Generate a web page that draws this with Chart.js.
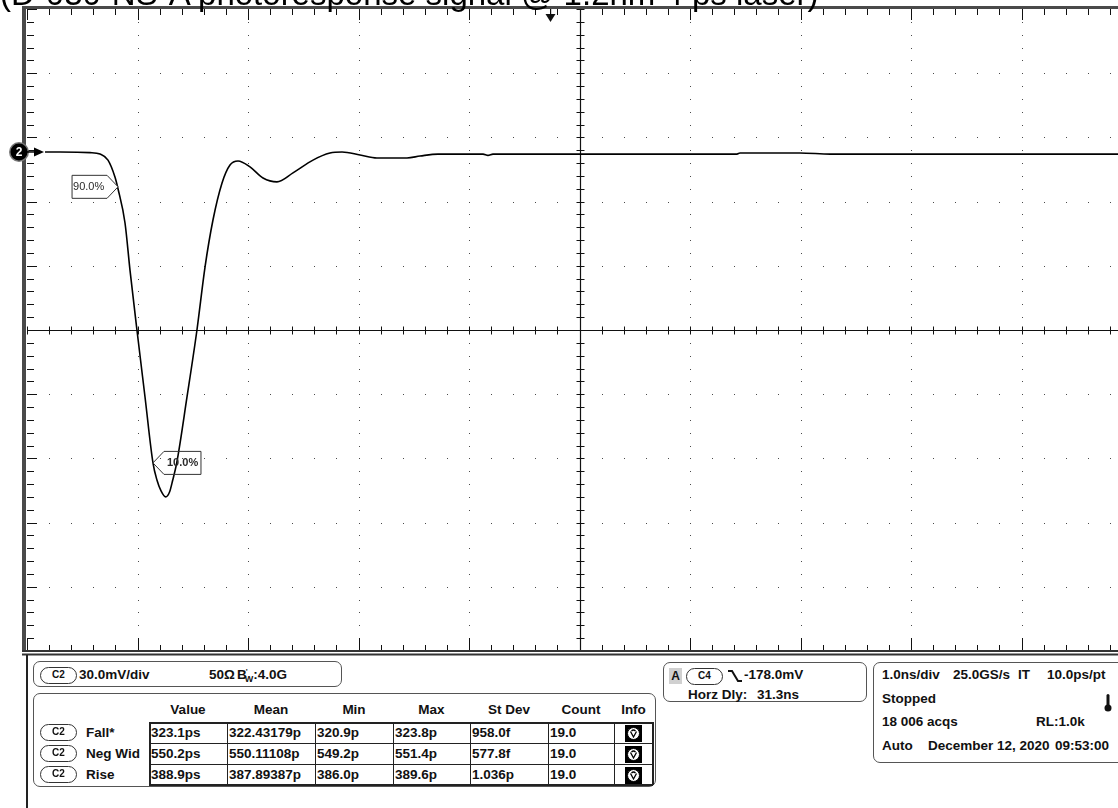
<!DOCTYPE html>
<html><head><meta charset="utf-8">
<script src="https://cdn.jsdelivr.net/npm/chart.js@4.4.0/dist/chart.umd.min.js"></script>
<style>
html,body{margin:0;padding:0;background:#fff;width:1118px;height:808px;overflow:hidden;position:relative;font-family:"Liberation Sans",Arial,sans-serif;}
#wrap{position:absolute;left:0;top:0;width:1140px;height:660px;}
#title{position:absolute;left:0;top:-23px;font-size:33px;line-height:33px;white-space:nowrap;color:#000;}
.t{position:absolute;font-weight:bold;font-size:13.5px;white-space:nowrap;color:#111;line-height:16px;}
.box{position:absolute;border:1.5px solid #555;border-radius:7px;box-sizing:border-box;}
.pill{position:absolute;border:1.3px solid #333;border-radius:9px;box-sizing:border-box;font-weight:bold;font-size:10px;text-align:center;line-height:14px;width:37px;height:17px;color:#111;}
.ln{position:absolute;background:#222;}
</style></head>
<body>
<div id="wrap"><canvas id="c" width="1140" height="660"></canvas></div>
<div id="title">(D-030-NS-A photoresponse signal @ 1.2nm 4 ps laser)</div>
<div id="panel"></div>
<script>
// ---- data ----
const timeNs = [0.163, 0.299, 0.570, 0.661, 0.733, 0.796, 0.824, 0.887, 0.932, 0.995, 1.068, 1.140, 1.176, 1.213, 1.255, 1.290, 1.319, 1.355, 1.448, 1.538, 1.611, 1.683, 1.765, 1.837, 1.910, 2.018, 2.136, 2.262, 2.407, 2.588, 2.742, 2.851, 3.014, 3.167, 3.439, 3.557, 3.719, 4.127, 4.172, 4.217, 5.882, 6.425, 6.452, 6.995, 7.270, 10.0];
const signalMv = [83.2, 83.2, 82.9, 82.2, 79.4, 71.5, 65.9, 50.0, 28.0, 0, -31.3, -62.1, -70.1, -75.2, -78.0, -75.7, -70.1, -62.1, -31.3, 0, 29.4, 51.4, 68.7, 77.1, 79.0, 76.2, 71.0, 69.2, 73.4, 79.4, 82.7, 83.2, 81.8, 80.4, 80.4, 81.3, 82.2, 82.2, 81.6, 82.2, 82.2, 82.2, 82.7, 82.7, 82.2, 82.2];
const levelLabels = ["90.0%", "10.0%"];
const levelTimeNs = [0.824, 1.140];
const levelMv = [66.9, -62.1];
const levelPointsRight = [true, false];
const xDivNs = 1.0, yDivMv = 30.0;
const xTickNs = [0,1,2,3,4,5,6,7,8,9,10];
const yTickMv = [-150,-120,-90,-60,-30,0,30,60,90,120,150];
const markerMv = 83.2;
const triggerNs = 4.73;

const measNames = ["Fall*","Neg Wid","Rise"];
const measValue = ["323.1ps","550.2ps","388.9ps"];
const measMean = ["322.43179p","550.11108p","387.89387p"];
const measMin = ["320.9p","549.2p","386.0p"];
const measMax = ["323.8p","551.4p","389.6p"];
const measStd = ["958.0f","577.8f","1.036p"];
const measCount = ["19.0","19.0","19.0"];
const measHeaders = ["Value","Mean","Min","Max","St Dev","Count","Info"];

// ---- chart ----
const scopePlugin = {
  id:'scope',
  beforeDatasetsDraw(chart){
    const {ctx, chartArea:a, scales:{x,y}} = chart;
    ctx.save();
    // grid dots
    ctx.fillStyle='#4a4a4a';
    xTickNs.forEach((t,i)=>{
      if(i===0||i===xTickNs.length-1||t===5) return;
      const px=Math.round(x.getPixelForValue(t));
      for(let v=yTickMv[0]; v<=yTickMv[yTickMv.length-1]+0.01; v+=yDivMv/5){
        ctx.fillRect(px, Math.round(y.getPixelForValue(v)), 1, 1);
      }
    });
    yTickMv.forEach((v,i)=>{
      if(i===0||i===yTickMv.length-1||v===0) return;
      const py=Math.round(y.getPixelForValue(v));
      for(let t=xTickNs[0]; t<=xTickNs[xTickNs.length-1]+0.01; t+=xDivNs/5){
        ctx.fillRect(Math.round(x.getPixelForValue(t)), py, 1, 1);
      }
    });
    // center cross
    ctx.strokeStyle='#111'; ctx.lineWidth=1.2;
    const cx=Math.round(x.getPixelForValue(5))+0.5, cy=Math.round(y.getPixelForValue(0))+0.5;
    ctx.beginPath(); ctx.moveTo(cx,a.top); ctx.lineTo(cx,a.bottom); ctx.moveTo(a.left,cy); ctx.lineTo(a.right,cy); ctx.stroke();
    ctx.lineWidth=1;
    ctx.beginPath();
    for(let t=0; t<=10.001; t+=xDivNs/5){ const px=Math.round(x.getPixelForValue(t))+0.5; ctx.moveTo(px,cy-4); ctx.lineTo(px,cy+4); }
    for(let v=-150; v<=150.01; v+=yDivMv/5){ const py=Math.round(y.getPixelForValue(v))+0.5; ctx.moveTo(cx-4,py); ctx.lineTo(cx+4,py); }
    // edge ticks
    for(let k=0; k<=50; k++){
      const t=k*xDivNs/5, px=Math.round(x.getPixelForValue(t))+0.5, major=(k%5===0);
      ctx.moveTo(px,a.top); ctx.lineTo(px,a.top+(major?11:6));
      ctx.moveTo(px,a.bottom); ctx.lineTo(px,a.bottom-(major?13:6));
    }
    for(let k=0; k<=50; k++){
      const v=-150+k*yDivMv/5, py=Math.round(y.getPixelForValue(v))+0.5, major=(k%5===0);
      ctx.moveTo(a.left,py); ctx.lineTo(a.left+(major?10:7),py);
    }
    ctx.stroke();
    // borders
    ctx.fillStyle='#4a4a4a';
    ctx.fillRect(a.left-5, a.top-3, 4, a.bottom-a.top+4);
    ctx.fillRect(a.left-5, a.top-3, a.right-a.left+10, 3);
    ctx.fillStyle='#333';
    ctx.fillRect(a.left-5, a.bottom-1, a.right-a.left+10, 2);
    ctx.fillRect(a.left-5, a.bottom+2.5, a.right-a.left+10, 2);
    // trigger position marker
    const tx=Math.round(x.getPixelForValue(triggerNs))+0.5;
    ctx.fillStyle='#111';
    ctx.beginPath(); ctx.moveTo(tx-5,a.top+5); ctx.lineTo(tx+5,a.top+5); ctx.lineTo(tx,a.top+13); ctx.closePath(); ctx.fill();
    ctx.fillRect(tx-0.5,a.top,1.2,6);
    ctx.restore();
  },
  afterDatasetsDraw(chart){
    const {ctx, chartArea:a, scales:{x,y}} = chart;
    ctx.save();
    // channel marker
    const my=y.getPixelForValue(markerMv);
    ctx.fillStyle='#777'; ctx.beginPath(); ctx.arc(19,my,10,0,Math.PI*2); ctx.fill();
    ctx.fillStyle='#000'; ctx.beginPath(); ctx.arc(19,my,8.5,0,Math.PI*2); ctx.fill();
    ctx.fillStyle='#fff'; ctx.font='bold 12px "Liberation Sans", Arial'; ctx.textAlign='center'; ctx.textBaseline='middle';
    ctx.fillText('2',19,my+0.5);
    ctx.fillStyle='#000';
    ctx.fillRect(27,my-0.75,8,1.5);
    ctx.beginPath(); ctx.moveTo(34,my-4.5); ctx.lineTo(44,my); ctx.lineTo(34,my+4.5); ctx.closePath(); ctx.fill();
    // level labels
    ctx.textBaseline='middle';
    levelLabels.forEach((lab,i)=>{
      const px=x.getPixelForValue(levelTimeNs[i]), py=y.getPixelForValue(levelMv[i]);
      ctx.beginPath();
      if(levelPointsRight[i]){
        ctx.moveTo(px,py); ctx.lineTo(px-11,py-11.5); ctx.lineTo(px-46,py-11.5); ctx.lineTo(px-46,py+11.5); ctx.lineTo(px-11,py+11.5); ctx.closePath();
      } else {
        ctx.moveTo(px,py); ctx.lineTo(px+11,py-11.5); ctx.lineTo(px+48,py-11.5); ctx.lineTo(px+48,py+11.5); ctx.lineTo(px+11,py+11.5); ctx.closePath();
      }
      ctx.fillStyle=levelPointsRight[i]?'#fff':'rgba(255,255,255,0)'; ctx.fill();
      ctx.strokeStyle='#333'; ctx.lineWidth=1; ctx.stroke();
      ctx.font=(levelPointsRight[i]?'':'bold ')+'11px "Liberation Sans", Arial';
      ctx.fillStyle='#2a2a2a'; ctx.textAlign='left';
      ctx.fillText(lab, levelPointsRight[i]? px-45 : px+14, py+0.5);
    });
    ctx.restore();
  }
};

new Chart(document.getElementById('c'), {
  type:'line',
  data:{ datasets:[{ data: timeNs.map((t,i)=>({x:t,y:signalMv[i]})), borderColor:'#000', borderWidth:1.6, pointRadius:0, cubicInterpolationMode:'monotone', fill:false }]},
  options:{
    responsive:false, animation:false, events:[],
    layout:{padding:{left:27, top:9, right:8, bottom:9}},
    plugins:{legend:{display:false}, tooltip:{enabled:false}, title:{display:false}},
    scales:{
      x:{type:'linear', min:xTickNs[0], max:xTickNs[xTickNs.length-1], display:false},
      y:{type:'linear', min:yTickMv[0], max:yTickMv[yTickMv.length-1], display:false}
    }
  },
  plugins:[scopePlugin]
});

// ---- lower info panel ----
const P=document.getElementById('panel');
function el(cls, x, y, w, h, html, style){
  const d=document.createElement('div'); d.className=cls;
  d.style.left=x+'px'; d.style.top=y+'px';
  if(w!=null) d.style.width=w+'px'; if(h!=null) d.style.height=h+'px';
  if(html!=null) d.innerHTML=html; if(style) d.style.cssText+=style;
  P.appendChild(d); return d;
}
function txt(s,x,cy,style){ return el('t',x,cy-8,null,null,s,style); }
function pill(s,x,cy){ return el('pill',x,cy-8.5,null,null,s); }
// left panel border
el('ln',26,655,1.6,153);
// box 1
el('box',33,660.5,309,26);
pill('C2',40,675); txt('30.0mV/div',79,675);
txt('50Ω',209,675);
txt('B<span style="font-size:8px;position:relative;top:-5px;margin-left:-1px">\'</span><span style="font-size:9px;position:relative;top:3px;margin-left:-3px">W</span>:4.0G',237,675);
// box 2 with table
el('box',33,692.5,623,94.5);
const colX=[149,227,315,393,470,548,614,653];
const rowY=[722,742.5,763.5,785];
measHeaders.forEach((h,i)=>{ const cx=(colX[i]+colX[i+1])/2; el('t',cx-40,702,80,null,h,'text-align:center'); });
el('ln',colX[0],rowY[0],colX[7]-colX[0],1.5); el('ln',colX[0],rowY[3]-1,colX[7]-colX[0],1.5);
el('ln',colX[0],rowY[1],colX[7]-colX[0],1.2); el('ln',colX[0],rowY[2],colX[7]-colX[0],1.2);
colX.forEach((cx,i)=>el('ln',cx-(i===7?1:0),rowY[0],i===0||i===7?1.5:1.3,rowY[3]-rowY[0]));
const cols=[measValue,measMean,measMin,measMax,measStd,measCount];
measNames.forEach((n,r)=>{
  const cy=(rowY[r]+rowY[r+1])/2+0.5;
  pill('C2',40,cy); txt(n,86,cy);
  cols.forEach((arr,c)=>txt(arr[r],colX[c]+2,cy));
  el('ln',625,cy-8,17,17,'<svg width="17" height="17"><circle cx="8.5" cy="8.5" r="6" fill="#fff" stroke="#000" stroke-width="1"/><path d="M5.5 6.5 L8.5 12 L11.5 6.5 M6.5 6 Q8.5 4 10.5 6" fill="none" stroke="#000" stroke-width="1.3"/></svg>','background:#000');
});
// box 3 trigger
el('box',662.5,661.5,204,40);
el('ln',669,668,13,16,'A','background:#d0d0d0;font-weight:bold;font-size:12px;text-align:center;line-height:16px;color:#111');
pill('C4',686,676);
el('ln',727,668,16,16,'<svg width="16" height="16"><path d="M1 3 L5 3 L11 13 L15 13" fill="none" stroke="#111" stroke-width="2"/></svg>','background:transparent');
txt('-178.0mV',744,675);
txt('Horz Dly:',688,695);
txt('31.3ns',757,695);
// box 4 timebase
el('box',872.5,661.5,260,101.5);
txt('1.0ns/div',882,675); txt('25.0GS/s',953,675); txt('IT',1018,675); txt('10.0ps/pt',1047,675);
txt('Stopped',882,699);
txt('18 006 acqs',882,722); txt('RL:1.0k',1036,722);
txt('Auto',882,746); txt('December 12, 2020',928,746); txt('09:53:00',1055,746);
el('ln',1104,694,8,18,'<svg width="8" height="18"><rect x="2.5" y="0" width="3" height="13" rx="1.5" fill="#111"/><circle cx="4" cy="14" r="3.5" fill="#111"/></svg>','background:transparent');
</script>
</body></html>
